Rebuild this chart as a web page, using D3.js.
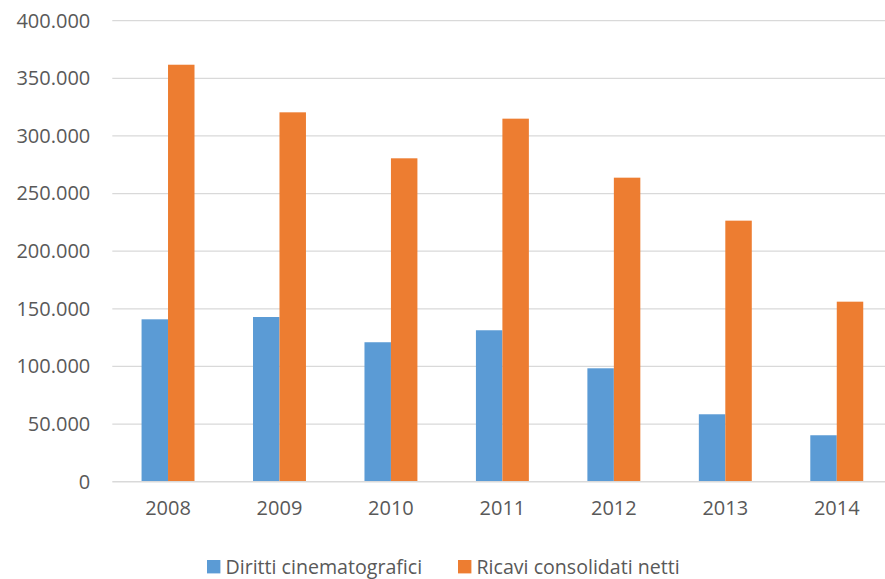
<!DOCTYPE html>
<html>
<head>
<meta charset="utf-8">
<script src="https://cdn.jsdelivr.net/npm/d3@7"></script>
<style>
  body { margin: 0; background: #fff; }
  text { font-family: "Open Sans", sans-serif; fill: #595959; }
</style>
</head>
<body>
<div id="app"></div>
<script>
// chart data
const years = ["2008", "2009", "2010", "2011", "2012", "2013", "2014"];
const seriesNames = ["Diritti cinematografici", "Ricavi consolidati netti"];
const diritti = [140900, 142900, 121000, 131400, 98400, 58500, 40300];
const ricavi = [361800, 320500, 280600, 315000, 263800, 226500, 156200];
const yTicks = [0, 50000, 100000, 150000, 200000, 250000, 300000, 350000, 400000];
const colors = ["#5B9BD5", "#ED7D31"];

const W = 885, H = 579;
const margin = {top: 20.7, right: -7.5, bottom: 97.3, left: 112.3},
  width = W - margin.left - margin.right,
  height = H - margin.top - margin.bottom;

const svg = d3.select("#app")
  .append("svg")
    .attr("width", W)
    .attr("height", H);

const g = svg.append("g")
  .attr("transform", "translate(" + margin.left + "," + margin.top + ")");

const x = d3.scaleBand()
  .domain(years)
  .range([0, width])
  .paddingInner(0.525)
  .paddingOuter(0.2625);

const x1 = d3.scaleBand()
  .domain(seriesNames)
  .range([0, x.bandwidth()]);

const y = d3.scaleLinear()
  .domain([0, 400000])
  .range([height, 0]);

// format like 400.000
const fmt = v => d3.format(",")(v).replace(/,/g, ".");

// gridlines
g.selectAll(".grid")
  .data(yTicks.filter(t => t > 0))
  .enter()
  .append("line")
    .attr("x1", 0)
    .attr("x2", width)
    .attr("y1", d => y(d))
    .attr("y2", d => y(d))
    .attr("stroke", "#D9D9D9")
    .attr("stroke-width", 1.3);

// bars
const data = years.map((yr, i) => ({year: yr, values: [diritti[i], ricavi[i]]}));

const groups = g.selectAll(".grp")
  .data(data)
  .enter()
  .append("g")
    .attr("transform", d => "translate(" + x(d.year) + ",0)");

groups.selectAll("rect")
  .data(d => d.values.map((v, j) => ({name: seriesNames[j], value: v, j: j})))
  .enter()
  .append("rect")
    .attr("x", d => x1(d.name))
    .attr("y", d => y(d.value))
    .attr("width", x1.bandwidth())
    .attr("height", d => height - y(d.value))
    .attr("fill", d => colors[d.j]);

// baseline
g.append("line")
  .attr("x1", 0)
  .attr("x2", width)
  .attr("y1", y(0))
  .attr("y2", y(0))
  .attr("stroke", "#D9D9D9")
  .attr("stroke-width", 1.5);

// y axis labels
const yAxis = d3.axisLeft(y)
  .tickValues(yTicks)
  .tickFormat(fmt)
  .tickSize(0)
  .tickPadding(22);

g.append("g")
  .call(yAxis)
  .call(a => a.select(".domain").remove())
  .selectAll("text")
    .style("font-size", "20px")
    .style("font-family", "'Open Sans', sans-serif")
    .attr("fill", "#595959");

// x axis labels
const xAxis = d3.axisBottom(x)
  .tickSize(0)
  .tickPadding(19);

g.append("g")
  .attr("transform", "translate(0," + height + ")")
  .call(xAxis)
  .call(a => a.select(".domain").remove())
  .selectAll("text")
    .style("font-size", "20px")
    .style("font-family", "'Open Sans', sans-serif")
    .attr("fill", "#595959");

// legend
const legendX = [207, 458];
const legend = svg.selectAll(".legend")
  .data(seriesNames)
  .enter()
  .append("g")
    .attr("transform", (d, i) => "translate(" + legendX[i] + ",560)");

legend.append("rect")
  .attr("width", 13.4)
  .attr("height", 13.4)
  .attr("fill", (d, i) => colors[i]);

legend.append("text")
  .attr("x", 18.5)
  .attr("y", 13.5)
  .style("font-size", "19.6px")
  .text(d => d);
</script>
</body>
</html>
